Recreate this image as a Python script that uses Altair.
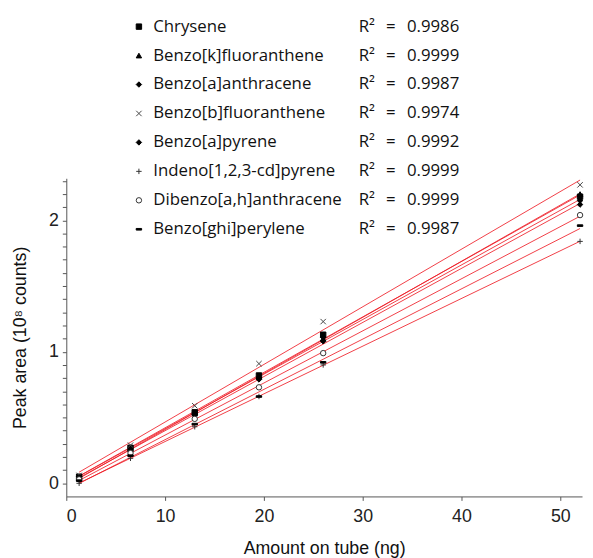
import altair as alt
import pandas as pd

compounds = [
    "Chrysene",
    "Benzo[k]fluoranthene",
    "Benzo[a]anthracene",
    "Benzo[b]fluoranthene",
    "Benzo[a]pyrene",
    "Indeno[1,2,3-cd]pyrene",
    "Dibenzo[a,h]anthracene",
    "Benzo[ghi]perylene",
]
r2_values = ["0.9986", "0.9999", "0.9987", "0.9974", "0.9992", "0.9999", "0.9999", "0.9987"]
fit_keys = ["fit1", "fit2", "fit3", "fit4", "fit5", "fit6", "fit7", "fit8"]
amounts = [1.3, 6.5, 13, 19.5, 26, 52]
chrysene = [0.05, 0.27, 0.54, 0.82, 1.13, 2.18]
benzo_k = [0.04, 0.26, 0.53, 0.81, 1.10, 2.20]
benzo_a_anth = [0.05, 0.27, 0.53, 0.80, 1.11, 2.15]
benzo_b = [0.06, 0.29, 0.59, 0.91, 1.23, 2.27]
benzo_a_pyr = [0.04, 0.25, 0.52, 0.79, 1.08, 2.12]
indeno = [0.00, 0.19, 0.43, 0.66, 0.90, 1.84]
dibenzo = [0.03, 0.23, 0.49, 0.73, 0.99, 2.04]
benzo_ghi = [0.02, 0.21, 0.45, 0.66, 0.92, 1.96]

series = [chrysene, benzo_k, benzo_a_anth, benzo_b, benzo_a_pyr, indeno, dibenzo, benzo_ghi]

x_ticks = [0, 10, 20, 30, 40, 50]
y_ticks = [0, 0.1, 0.2, 0.3, 0.4, 0.5, 0.6, 0.7, 0.8, 0.9, 1, 1.1, 1.2, 1.3, 1.4,
           1.5, 1.6, 1.7, 1.8, 1.9, 2, 2.1, 2.2, 2.3]

rows = []
for name, key, vals in zip(compounds, fit_keys, series):
    for a, v in zip(amounts, vals):
        rows.append({"compound": name, "r2key": key, "amount": a, "area": v})
df = pd.DataFrame(rows)

shapes = [
    "square",
    "triangle-up",
    "diamond",
    "M-1,-1L1,1M-1,1L1,-1",
    "diamond",
    "M-1,0L1,0M0,-1L0,1",
    "circle",
    "M-1,-0.3L1,-0.3L1,0.3L-1,0.3Z",
]
fills = ["black", "black", "black", "transparent", "black", "transparent", "white", "black"]
strokes = ["black", "black", "black", "#444", "black", "#333", "#333", "black"]

gap = "\u2002\u2009"
keys_js = "[" + ",".join("'" + k + "'" for k in fit_keys) + "]"
r2_js = "[" + ",".join("'R²" + gap + "=" + gap + v + "'" for v in r2_values) + "]"

shape_legend = alt.Legend(
    orient="none", legendX=65, legendY=-162, title=None,
    labelFont="Open Sans", labelFontSize=17, labelColor="#111",
    labelLimit=400, symbolSize=30, symbolStrokeWidth=1,
    labelOffset=6, rowPadding=11.3, padding=0,
)
r2_legend = alt.Legend(
    orient="none", legendX=279, legendY=-162, title=None,
    labelFont="Open Sans", labelFontSize=17, labelColor="#111",
    labelLimit=400, symbolSize=1, symbolOpacity=0, symbolStrokeWidth=0,
    labelOffset=0, rowPadding=11.3, padding=0,
    labelExpr=r2_js + "[indexof(" + keys_js + ", datum.label)]",
)

x_enc = alt.X(
    "amount:Q",
    scale=alt.Scale(domain=[0, 52.2], nice=False, zero=False),
    axis=alt.Axis(values=x_ticks, title="Amount on tube (ng)", format="d"),
)
y_enc = alt.Y(
    "area:Q",
    scale=alt.Scale(domain=[-0.1, 2.32], nice=False, zero=False),
    axis=alt.Axis(
        values=y_ticks,
        title="Peak area (10⁸ counts)",
        labelExpr="abs(datum.value - round(datum.value)) < 0.001 ? format(datum.value, 'd') : ''",
    ),
)

lines = (
    alt.Chart(df)
    .transform_regression("amount", "area", groupby=["compound", "r2key"])
    .mark_line(strokeWidth=1, opacity=0.85, clip=True)
    .encode(
        x=x_enc,
        y=y_enc,
        color=alt.Color("r2key:N", scale=alt.Scale(domain=fit_keys, range=["#ee1c25"] * 8), legend=r2_legend),
    )
)

points = (
    alt.Chart(df)
    .mark_point(filled=False, size=30, strokeWidth=1, opacity=1)
    .encode(
        x=x_enc,
        y=y_enc,
        shape=alt.Shape("compound:N", scale=alt.Scale(domain=compounds, range=shapes), legend=shape_legend),
        fill=alt.Fill("compound:N", scale=alt.Scale(domain=compounds, range=fills), legend=shape_legend),
        stroke=alt.Stroke("compound:N", scale=alt.Scale(domain=compounds, range=strokes), legend=shape_legend),
    )
)

chart = (
    alt.layer(lines, points)
    .properties(width=522, height=322, padding={"left": 3, "top": 7, "right": 0, "bottom": 0})
    .configure_view(stroke=None)
    .configure_axis(
        grid=False,
        domainColor="#555",
        tickColor="#555",
        tickSize=4,
        labelFont="Liberation Sans",
        labelFontSize=18,
        labelColor="#222",
        titleFont="Liberation Sans",
        titleFontSize=18,
        titleFontWeight="normal",
        titleColor="#111",
        labelPadding=4,
    )
    .configure_axisX(titlePadding=15, labelPadding=7)
    .configure_axisY(titlePadding=19)
)

chart.save("out.html", embed_options={"renderer": "svg", "actions": False})
